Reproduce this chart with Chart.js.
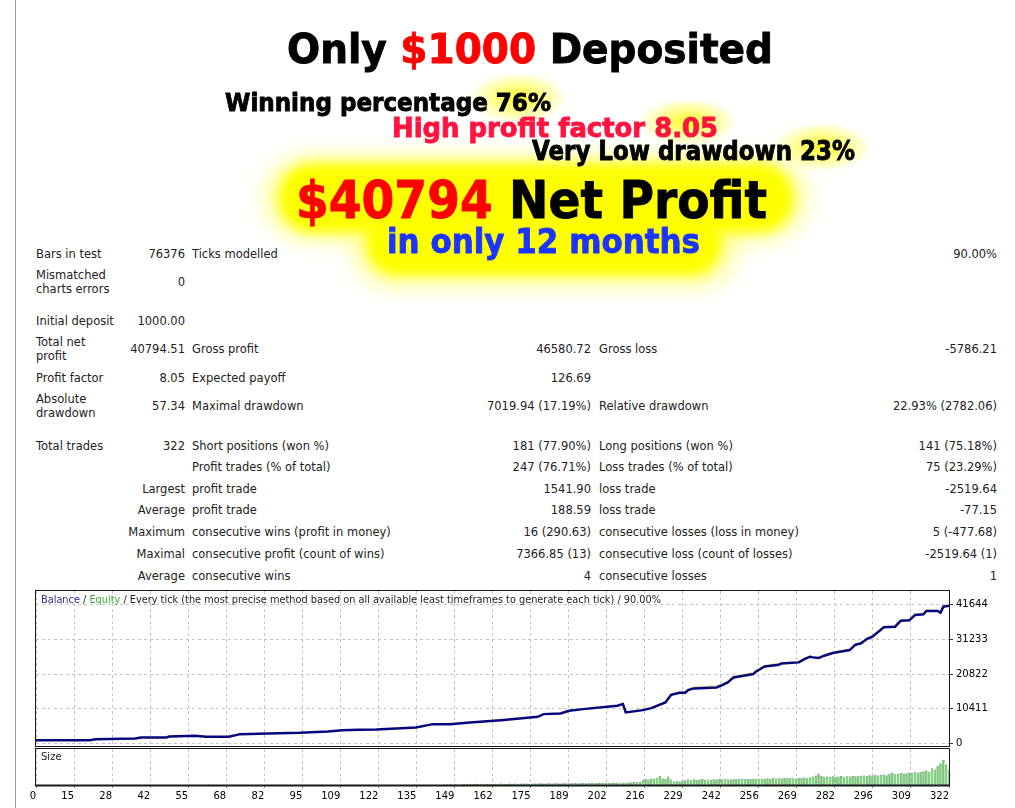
<!DOCTYPE html>
<html>
<head>
<meta charset="utf-8">
<script src="https://cdn.jsdelivr.net/npm/chart.js@4.4.0/dist/chart.umd.min.js"></script>
<style>
  body { margin: 0; background: #fff; }
  #page { position: relative; width: 1015px; height: 808px; overflow: hidden; background: #fff; }
  .edge { position: absolute; left: 15px; top: 0; width: 1px; height: 808px; background: #9a9a9a; }
  .hd { position: absolute; white-space: nowrap; font-family: "DejaVu Sans", sans-serif; font-weight: bold; line-height: 1; transform-origin: 0 0; color: #000; -webkit-text-stroke: 0.9px currentColor; }
  .red { color: #ff0000; }
  .pink { color: #ff1440; }
  .blue { color: #1c34ff; }
  .glow { position: absolute; border-radius: 50%; }
  .blob { position: absolute; background: #ffff00; filter: blur(6px); }
  .halo { position: absolute; background: rgba(255,255,110,0.5); filter: blur(9px); }
  .cell { position: absolute; font-family: "DejaVu Sans", sans-serif; font-size: 11.5px; line-height: 14.5px; color: #222; white-space: pre; }
  .r { text-align: right; width: 300px; }
  canvas { position: absolute; left: 0; }
  .fit { position: absolute; white-space: nowrap; font-family: "DejaVu Sans", sans-serif; font-size: 10px; line-height: 12px; color: #222; transform-origin: 0 0; }
</style>
</head>
<body>
<div id="page">
  <div class="edge"></div>

  <!-- yellow glows -->
  <div class="glow" style="left:468px;top:72px;width:100px;height:52px;background:radial-gradient(closest-side, rgba(255,255,0,0.85), rgba(255,255,60,0.4) 65%, rgba(255,255,0,0) 100%);"></div>
  <div class="glow" style="left:638px;top:98px;width:100px;height:48px;background:radial-gradient(closest-side, rgba(255,255,0,0.85), rgba(255,255,60,0.4) 65%, rgba(255,255,0,0) 100%);"></div>
  <div class="glow" style="left:772px;top:122px;width:100px;height:50px;background:radial-gradient(closest-side, rgba(255,255,0,0.85), rgba(255,255,60,0.4) 65%, rgba(255,255,0,0) 100%);"></div>
  <div class="halo" style="left:262px;top:152px;width:548px;height:92px;border-radius:46px;"></div>
  <div class="halo" style="left:350px;top:206px;width:390px;height:84px;border-radius:42px;"></div>
  <div class="blob" style="left:278px;top:163px;width:516px;height:70px;border-radius:35px;"></div>
  <div class="blob" style="left:366px;top:214px;width:356px;height:62px;border-radius:31px;"></div>

  <!-- headline texts -->
  <div class="hd" data-w="486" style="left:287px;top:29px;font-size:41px;">Only <span class="red">$1000</span> Deposited</div>
  <div class="hd" data-w="326" style="left:225px;top:90px;font-size:25px;">Winning percentage 76%</div>
  <div class="hd pink" data-w="326" style="left:392px;top:114px;font-size:27px;">High profit factor 8.05</div>
  <div class="hd" data-w="323" style="left:532px;top:138px;font-size:26px;">Very Low drawdown 23%</div>
  <div class="hd" data-w="471" style="left:296px;top:174px;font-size:52px;"><span class="red">$40794</span> Net Profit</div>
  <div class="hd blue" data-w="313" style="left:387px;top:224px;font-size:34px;">in only 12 months</div>

  <div id="stats"></div>

  <canvas id="balance" width="1015" height="164" style="top:586px;"></canvas>
  <canvas id="size" width="1015" height="62" style="top:746px;"></canvas>

  <div class="fit" data-w="620" style="left:41px;top:594px;"><span style="color:#2c2c80">Balance</span> / <span style="color:#3aaa3a">Equity</span> / Every tick (the most precise method based on all available least timeframes to generate each tick) / 90.00%</div>
  <div class="fit" style="left:41px;top:751px;">Size</div>
</div>

<script>
// balance curve, read at the turning points (trade number -> account balance)
var balanceTrades = [0, 19, 21, 35, 37, 46, 47, 56, 60, 68,
    72, 82, 93, 103, 108, 114, 120, 134, 140, 146,
    153, 164, 177, 179, 185, 188, 193, 205, 207, 208,
    214, 217, 222, 224, 227, 229, 230, 232, 240, 242,
    244, 246, 248, 253, 254, 257, 262, 263, 269, 271,
    273, 274, 276, 278, 281, 287, 289, 291, 293, 295,
    299, 303, 305, 308, 310, 313, 314, 318, 319, 320,
    322];
var balanceValues = [1000, 1000, 1300, 1500, 1800, 1800, 2100, 2300, 2000, 2000,
    2800, 3000, 3200, 3600, 4000, 4100, 4200, 4800, 5800, 5800,
    6300, 7000, 8000, 8800, 9000, 9800, 10300, 11300, 11800, 9300,
    10000, 10600, 12300, 14600, 15200, 15200, 16000, 16500, 16800, 17500,
    18300, 19800, 20100, 20800, 21600, 23100, 23600, 24000, 24300, 25300,
    26000, 25800, 25600, 26300, 27100, 28000, 29600, 30000, 31300, 32000,
    34800, 35000, 36800, 36900, 38500, 38700, 39700, 39700, 39200, 41000,
    41300];
var equityValues = [1000, 1000, 1300, 1500, 1800, 1800, 2100, 2300, 2000, 2000,
    2800, 3000, 3200, 3600, 4000, 4100, 4200, 4800, 5800, 5900,
    6300, 7100, 8000, 8800, 9100, 9800, 10400, 11400, 11800, 9300,
    10100, 10800, 12500, 14700, 15400, 15500, 16300, 16900, 17300, 18000,
    18700, 20100, 20500, 21300, 22000, 23400, 24000, 24300, 24500, 25500,
    26200, 26000, 25900, 26500, 27300, 28300, 29800, 30300, 31500, 32300,
    35000, 35300, 37000, 37100, 38700, 38900, 39900, 39900, 39300, 41100,
    41300];

// lot size of each trade, 0..322
var sizeValues = [
    0.01, 0.01, 0.01, 0.01, 0.01, 0.01, 0.01, 0.01, 0.01, 0.01,
    0.01, 0.01, 0.01, 0.01, 0.01, 0.01, 0.01, 0.01, 0.01, 0.01,
    0.01, 0.01, 0.01, 0.01, 0.01, 0.01, 0.01, 0.01, 0.01, 0.01,
    0.01, 0.01, 0.01, 0.01, 0.01, 0.01, 0.01, 0.01, 0.01, 0.01,
    0.01, 0.01, 0.01, 0.01, 0.01, 0.01, 0.01, 0.01, 0.01, 0.01,
    0.01, 0.01, 0.01, 0.01, 0.01, 0.01, 0.01, 0.01, 0.01, 0.01,
    0.02, 0.02, 0.02, 0.02, 0.02, 0.02, 0.02, 0.02, 0.02, 0.02,
    0.02, 0.02, 0.02, 0.02, 0.02, 0.02, 0.02, 0.02, 0.02, 0.02,
    0.02, 0.02, 0.02, 0.02, 0.02, 0.02, 0.02, 0.02, 0.02, 0.02,
    0.02, 0.02, 0.02, 0.02, 0.02, 0.02, 0.02, 0.02, 0.02, 0.02,
    0.02, 0.02, 0.02, 0.02, 0.02, 0.02, 0.02, 0.02, 0.02, 0.02,
    0.02, 0.02, 0.02, 0.02, 0.02, 0.02, 0.02, 0.02, 0.02, 0.02,
    0.03, 0.03, 0.03, 0.03, 0.03, 0.03, 0.03, 0.03, 0.03, 0.03,
    0.03, 0.03, 0.03, 0.03, 0.03, 0.03, 0.03, 0.03, 0.03, 0.03,
    0.03, 0.03, 0.03, 0.03, 0.04,
    0.05, 0.06, 0.04, 0.06, 0.05, 0.07, 0.06,
    0.08, 0.1, 0.09, 0.1, 0.08, 0.1, 0.11, 0.09, 0.1, 0.1,
    0.11, 0.1, 0.12, 0.1, 0.11, 0.12, 0.1, 0.12, 0.11, 0.12,
    0.12, 0.13, 0.11, 0.12, 0.13, 0.12, 0.14, 0.13, 0.12, 0.14,
    0.13, 0.14, 0.15, 0.13, 0.14, 0.15, 0.14, 0.15, 0.16, 0.14,
    0.15, 0.16, 0.15, 0.16, 0.17, 0.15, 0.16, 0.17, 0.16, 0.17,
    0.17, 0.18, 0.16, 0.18, 0.19, 0.2, 0.18, 0.2, 0.22,
    0.25, 0.22, 0.26,
    0.4, 0.5, 0.45, 0.55, 0.5, 0.6, 0.75, 0.55, 0.5, 0.7, 0.45, 0.3, 0.35, 0.3, 0.35,
    0.4, 0.45, 0.4, 0.48, 0.42, 0.45, 0.5, 0.42, 0.46, 0.44,
    0.48, 0.45, 0.5, 0.46, 0.52, 0.48, 0.45, 0.5, 0.47, 0.52,
    0.5, 0.48, 0.53, 0.5, 0.55, 0.49, 0.52, 0.54, 0.5, 0.56,
    0.53, 0.58, 0.55, 0.6, 0.54, 0.58, 0.56, 0.6, 0.57, 0.55,
    0.6, 0.58, 0.62, 0.57, 0.65, 0.7, 0.8, 0.95, 0.75, 0.68,
    0.7, 0.66, 0.72, 0.68, 0.7, 0.74, 0.69, 0.72, 0.7, 0.76,
    0.72, 0.78, 0.75, 0.8, 0.76, 0.82, 0.78, 0.85, 0.8, 0.84,
    0.88, 0.82, 0.95, 1.05, 0.9, 0.92, 1.0, 0.95, 0.98, 1.05,
    1.0, 1.1, 1.02, 1.08, 1.15,
    1.2, 1.1, 1.4, 1.3, 1.6, 1.8, 2.1, 1.7, 1.3];

var xTickLabels = ['0', '15', '28', '42', '55', '68', '82', '95', '109', '122', '135', '149', '162',
    '175', '189', '202', '216', '229', '242', '256', '269', '282', '296', '309', '322'];
var yTickValues = [0, 10411, 20822, 31233, 41644];
var tradeCount = 322;

// report table: [y, left label, value, label, value, label, value]
var statRows = [
    [254, 'Bars in test', '76376', 'Ticks modelled', '', '', '90.00%'],
    [282, 'Mismatched\ncharts errors', '0', '', '', '', ''],
    [321, 'Initial deposit', '1000.00', '', '', '', ''],
    [349, 'Total net\nprofit', '40794.51', 'Gross profit', '46580.72', 'Gross loss', '-5786.21'],
    [378, 'Profit factor', '8.05', 'Expected payoff', '126.69', '', ''],
    [406, 'Absolute\ndrawdown', '57.34', 'Maximal drawdown', '7019.94 (17.19%)', 'Relative drawdown', '22.93% (2782.06)'],
    [446, 'Total trades', '322', 'Short positions (won %)', '181 (77.90%)', 'Long positions (won %)', '141 (75.18%)'],
    [467.5, '', '', 'Profit trades (% of total)', '247 (76.71%)', 'Loss trades (% of total)', '75 (23.29%)'],
    [489, '', 'Largest', 'profit trade', '1541.90', 'loss trade', '-2519.64'],
    [510.5, '', 'Average', 'profit trade', '188.59', 'loss trade', '-77.15'],
    [532.5, '', 'Maximum', 'consecutive wins (profit in money)', '16 (290.63)', 'consecutive losses (loss in money)', '5 (-477.68)'],
    [554, '', 'Maximal', 'consecutive profit (count of wins)', '7366.85 (13)', 'consecutive loss (count of losses)', '-2519.64 (1)'],
    [576, '', 'Average', 'consecutive wins', '4', 'consecutive losses', '1']
];

var stats = document.getElementById('stats');
var colX = [36, 185, 192, 591, 599, 997];
statRows.forEach(function (row) {
    for (var c = 1; c < row.length; c++) {
        if (!row[c]) continue;
        var d = document.createElement('div');
        var lines = row[c].split('\n').length;
        d.className = 'cell';
        d.textContent = row[c];
        d.style.top = (row[0] - lines * 7.25) + 'px';
        if (c % 2 === 0) {
            d.className += ' r';
            d.style.left = (colX[c - 1] - 300) + 'px';
        } else {
            d.style.left = colX[c - 1] + 'px';
        }
        stats.appendChild(d);
    }
});

// squeeze headline texts to the widths in the picture
document.querySelectorAll('[data-w]').forEach(function (el) {
    var w = el.getBoundingClientRect().width;
    el.style.transform = 'scaleX(' + (+el.dataset.w / w) + ')';
});

function evenTicks(scale) {
    var n = xTickLabels.length - 1;
    scale.ticks = xTickLabels.map(function (l, i) { return { value: tradeCount * i / n }; });
}

var framePlugin = {
    id: 'frame',
    afterDraw: function (chart, args, opts) {
        var a = chart.chartArea, ctx = chart.ctx;
        ctx.save();
        ctx.strokeStyle = '#1a1a1a';
        ctx.lineWidth = 1;
        ctx.strokeRect(a.left - 0.5, a.top - 0.5, a.right - a.left + 1, a.bottom - a.top + 1);
        if (opts.bottomWidth) {
            ctx.lineWidth = opts.bottomWidth;
            ctx.beginPath();
            ctx.moveTo(a.left - 1, a.bottom + 0.5);
            ctx.lineTo(a.right + 1, a.bottom + 0.5);
            ctx.stroke();
        }
        ctx.restore();
    }
};

var gridColor = '#c4c4c4';
var tickFont = { family: 'DejaVu Sans', size: 10 };

new Chart(document.getElementById('balance'), {
    type: 'line',
    data: {
        datasets: [{
            label: 'Balance',
            data: balanceTrades.map(function (t, i) { return { x: t, y: balanceValues[i] }; }),
            borderColor: '#06067e',
            borderWidth: 2.5,
            pointRadius: 0,
            tension: 0
        }, {
            label: 'Equity',
            data: balanceTrades.map(function (t, i) { return { x: t, y: equityValues[i] }; }),
            borderColor: '#e2ea8a',
            borderWidth: 1.5,
            pointRadius: 0,
            tension: 0
        }]
    },
    options: {
        responsive: false,
        animation: false,
        layout: { padding: { left: 36, top: 5, right: 0, bottom: 4 } },
        plugins: { legend: { display: false }, tooltip: { enabled: false }, frame: {} },
        scales: {
            x: {
                type: 'linear', min: 0, max: tradeCount,
                afterBuildTicks: evenTicks,
                ticks: { display: false },
                grid: { color: gridColor, drawTicks: false },
                border: { display: false, dash: [3, 3] },
                afterFit: function (s) { s.height = 0; s.paddingLeft = 0; s.paddingRight = 0; }
            },
            y: {
                position: 'right', min: -750, max: 45690,
                afterBuildTicks: function (s) { s.ticks = yTickValues.map(function (v) { return { value: v }; }); },
                ticks: { color: '#000', font: tickFont, padding: 3, callback: function (v) { return String(v); } },
                grid: { color: gridColor, tickColor: '#333', tickLength: 4, tickBorderDash: [] },
                border: { display: false, dash: [3, 3] },
                afterFit: function (s) { s.width = 66; s.paddingTop = 0; s.paddingBottom = 0; }
            }
        }
    },
    plugins: [framePlugin]
});

new Chart(document.getElementById('size'), {
    type: 'bar',
    data: {
        datasets: [{
            label: 'Size',
            data: sizeValues.map(function (v, i) { return { x: i, y: v }; }),
            backgroundColor: '#6cd66c',
            borderColor: '#3c6a3c',
            borderWidth: 0.5,
            barPercentage: 0.85,
            categoryPercentage: 1
        }]
    },
    options: {
        responsive: false,
        animation: false,
        layout: { padding: { left: 36, top: 3, right: 0, bottom: 0 } },
        plugins: { legend: { display: false }, tooltip: { enabled: false }, frame: { bottomWidth: 2 } },
        scales: {
            x: {
                type: 'linear', min: 0, max: tradeCount, offset: false,
                afterBuildTicks: evenTicks,
                ticks: {
                    align: 'end', color: '#000', font: tickFont, padding: 2, maxRotation: 0, autoSkip: false,
                    callback: function (v, i) { return xTickLabels[i]; }
                },
                grid: { offset: false, color: gridColor, tickColor: '#888', tickLength: 3, tickBorderDash: [] },
                border: { display: false, dash: [3, 3] },
                afterFit: function (s) { s.height = 23; s.paddingLeft = 0; s.paddingRight = 0; }
            },
            y: {
                position: 'right', min: 0, max: 3.0,
                ticks: { display: false },
                grid: { display: false },
                border: { display: false },
                afterFit: function (s) { s.width = 66; s.paddingTop = 0; s.paddingBottom = 0; }
            }
        }
    },
    plugins: [framePlugin]
});
</script>
</body>
</html>
